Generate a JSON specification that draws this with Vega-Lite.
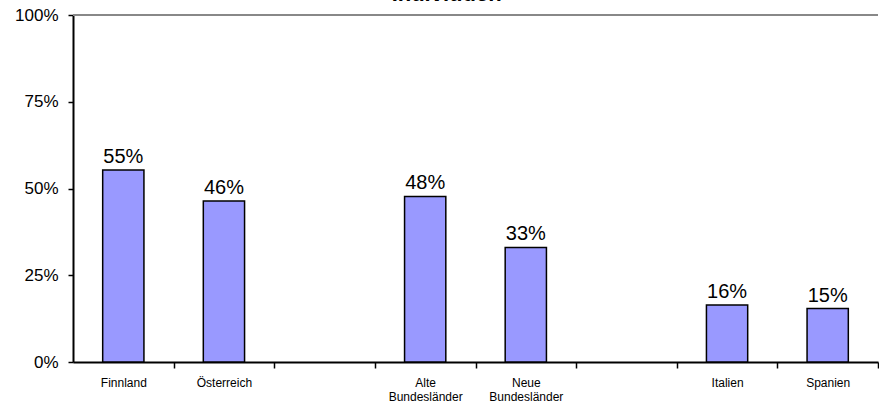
{
  "$schema": "https://vega.github.io/schema/vega-lite/v6.json",
  "width": 805,
  "height": 347,
  "autosize": {"type": "none"},
  "padding": {"left": 73, "top": 15, "right": 1, "bottom": 44},
  "background": "white",
  "config": {
    "view": {"stroke": null},
    "font": "Liberation Sans"
  },
  "title": {
    "text": "Individuen",
    "fontSize": 22,
    "fontWeight": "bold",
    "color": "black",
    "anchor": "middle",
    "frame": "bounds",
    "offset": 0
  },
  "data": {
    "values": [
      {"land": "Finnland", "anteil": 0.553},
      {"land": "Österreich", "anteil": 0.464},
      {"land": "Alte Bundesländer", "anteil": 0.477},
      {"land": "Neue Bundesländer", "anteil": 0.33},
      {"land": "Italien", "anteil": 0.164},
      {"land": "Spanien", "anteil": 0.154}
    ]
  },
  "layer": [
    {
      "mark": {"type": "bar", "fill": "#9999FF", "stroke": "black", "strokeWidth": 1.5},
      "encoding": {
        "x": {
          "field": "land",
          "type": "nominal",
          "sort": null,
          "scale": {
            "domain": ["Finnland", "Österreich", "_1", "Alte Bundesländer", "Neue Bundesländer", "_2", "Italien", "Spanien"],
            "paddingInner": 0.59,
            "paddingOuter": 0.295
          },
          "axis": {
            "title": null,
            "labelAngle": 0,
            "labelExpr": "indexof(datum.value,'_')==0 ? '' : split(datum.value,' ')",
            "labelFontSize": 12,
            "labelColor": "black",
            "labelPadding": 9,
            "labelLineHeight": 14,
            "labelBaseline": "top",
            "tickOffset": 50.3125,
            "labelOffset": -50.3125,
            "tickSize": 6,
            "tickColor": "black",
            "tickWidth": 1.5,
            "domainColor": "black",
            "domainWidth": 2
          }
        },
        "y": {
          "field": "anteil",
          "type": "quantitative",
          "scale": {"domain": [0, 1], "nice": false},
          "axis": {
            "title": null,
            "values": [0, 0.25, 0.5, 0.75, 1],
            "format": ".0%",
            "grid": false,
            "labelFontSize": 17,
            "labelColor": "black",
            "labelPadding": 10,
            "tickSize": 5,
            "tickColor": "black",
            "tickWidth": 1.5,
            "domainColor": "black",
            "domainWidth": 2
          }
        }
      }
    },
    {
      "mark": {"type": "text", "fontSize": 20, "color": "black", "baseline": "alphabetic", "dy": -7},
      "encoding": {
        "x": {"field": "land", "type": "nominal", "sort": null},
        "y": {"field": "anteil", "type": "quantitative"},
        "text": {"field": "anteil", "type": "quantitative", "format": ".0%"}
      }
    },
    {
      "mark": {"type": "rule", "color": "#888888", "strokeWidth": 1.5},
      "encoding": {"y": {"datum": 1, "type": "quantitative"}}
    }
  ]
}
